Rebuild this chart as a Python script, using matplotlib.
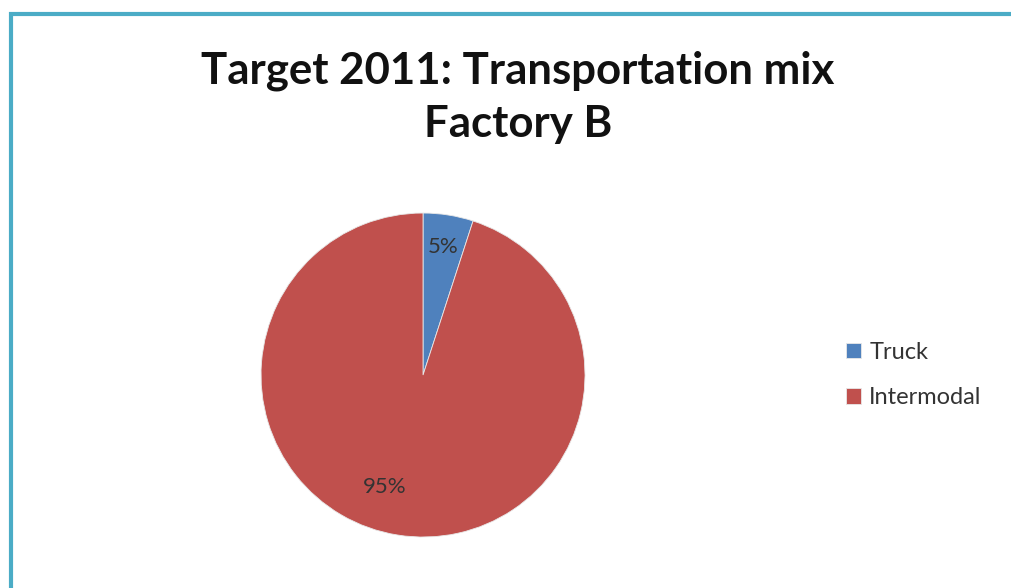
import matplotlib
matplotlib.use("Agg")
import matplotlib.pyplot as plt
from matplotlib.patches import Rectangle
import numpy as np

# chart data
categories = ["Truck", "Intermodal"]
shares = [5, 95]
colors = ["#4F81BD", "#C0504D"]
title_lines = ["Target 2011: Transportation mix", "Factory B"]

plt.rcParams['font.family'] = ['Lato', 'DejaVu Sans']

fig = plt.figure(figsize=(10.12, 5.88), dpi=100)
fig.patch.set_facecolor("white")

# teal frame (cut off at right and bottom like the screenshot)
frame = Rectangle((11 / 1012, -0.2), 1.2, 1.2 - 13.5 / 588,
                  transform=fig.transFigure, fill=False,
                  edgecolor="#4BACC6", linewidth=3.0, zorder=0)
fig.patches.append(frame)

fig.text(0.512, 1 - 97 / 588, "\n".join(title_lines), ha="center", va="center",
         fontsize=31.5, fontweight="bold", color="#111111", linespacing=1.4)

ax = fig.add_axes([0.2579, 0.0867, 0.3202, 0.551])
wedges, texts, autotexts = ax.pie(shares, colors=colors, startangle=90, counterclock=False,
                                  autopct="%1.0f%%", pctdistance=0.8,
                                  wedgeprops=dict(edgecolor="#e8e8e8", linewidth=0.6),
                                  textprops=dict(fontsize=16, color="#333333"))
ax.set_aspect("equal")
ax.set_xlim(-1, 1)
ax.set_ylim(-1, 1)

# Excel puts the big label a bit further round and closer to the centre
ang = np.deg2rad(-109)
autotexts[1].set_position((0.73 * np.cos(ang), 0.73 * np.sin(ang)))

fig.legend(wedges, categories, loc="center left",
           bbox_to_anchor=(846 / 1012, 1 - 375 / 588), frameon=False,
           fontsize=17, handlelength=0.63, handleheight=0.63, handletextpad=0.35,
           labelspacing=1.05, borderpad=0, borderaxespad=0,
           labelcolor="#333333")

fig.savefig("out.png", dpi=100, facecolor="white")
